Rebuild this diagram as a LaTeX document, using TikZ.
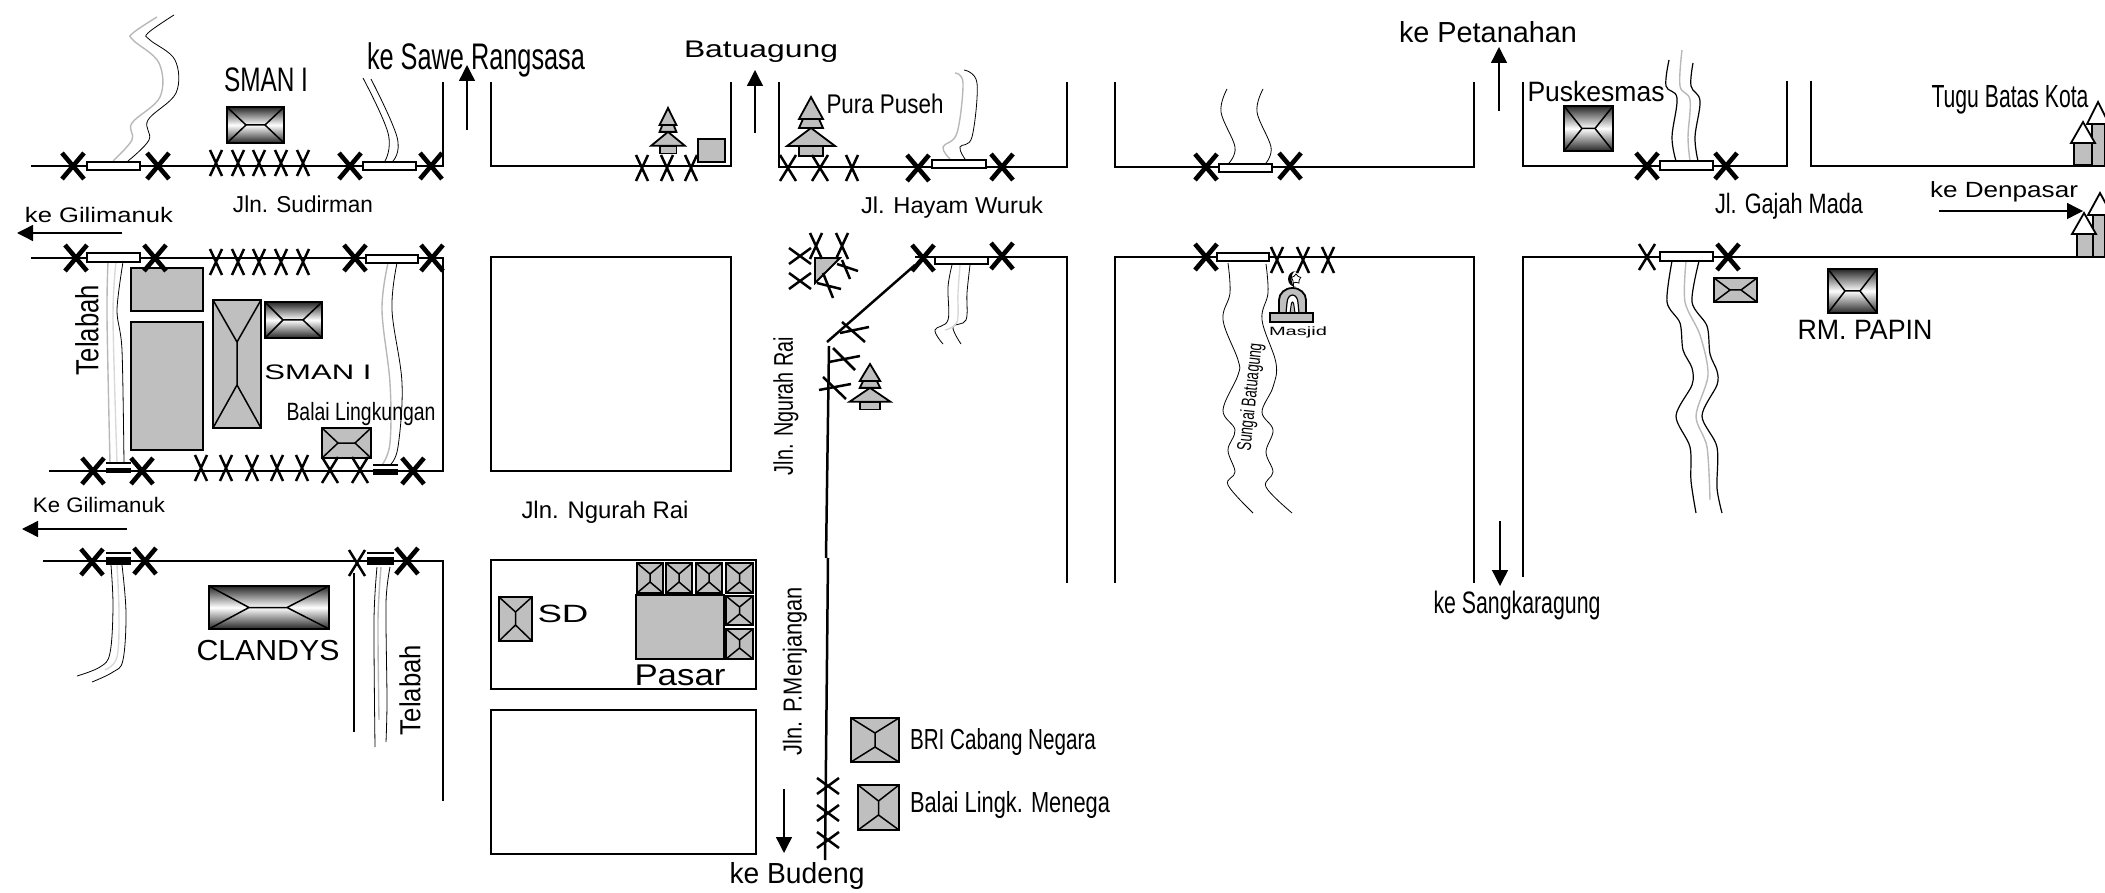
\documentclass[tikz,border=0pt]{standalone}
\usepackage{fontspec}
\usepackage{graphicx}
\setmainfont{Liberation Sans}
\usetikzlibrary{arrows.meta,shapes.geometric}
\definecolor{bgrey}{HTML}{BFBFBF}
\tikzset{
 road/.style={line width=1.25pt,line join=miter},
 riv/.style={line width=.4pt,black},
 rivg/.style={line width=.7pt,black!28},
 bridge/.style={line width=1.1pt,fill=white,draw=black},
 bbridge/.style={fill=black,draw=none},
 bigx/.style={line width=2.3pt},
 smallx/.style={line width=1.25pt},
 gr/.style={fill=bgrey,draw=black,line width=.9pt},
 grad/.style={draw=black,line width=1pt,top color=black!85,bottom color=black!85,middle color=white},
 hip/.style={line width=.75pt,black},
 ar/.style={line width=.7pt,-{Triangle[length=8pt,width=8pt]}},
 lbl/.style={inner sep=0pt,outer sep=0pt,anchor=center}
}
\newcommand\fitt[3]{\resizebox{\dimexpr#1pt/2\relax}{\height}{\fontsize{#2pt}{#2pt}\selectfont #3}}
% \tl name x y widthpx size text
\newcommand\tl[7][0]{\node[lbl,rotate=#1] (#2) at (#3,#4) {\fitt{#5}{#6}{#7}};}
\newcommand\BX[2]{\draw[bigx] (#1-11,#2-13)--(#1+11,#2+13) (#1+11,#2-13)--(#1-11,#2+13);}
\newcommand\SX[2]{\draw[smallx] (#1-6,#2-13)--(#1+6,#2+13) (#1+6,#2-13)--(#1-6,#2+13);}
\newcommand\MX[2]{\draw[smallx] (#1-8,#2-13)--(#1+8,#2+13) (#1+8,#2-13)--(#1-8,#2+13);}
\newcommand\SWX[2]{\draw[smallx] (#1-11,#2-8)--(#1+11,#2+8) (#1+11,#2-8)--(#1-11,#2+8);}
% hroof: x0 y0 x1 y1 ridgeA ridgeB style
\newcommand\hroof[7]{\draw[#7] (#1,#2) rectangle (#3,#4);
 \draw[hip] (#1,#2)--(#5,{(#2+#4)/2})--(#1,#4) (#3,#2)--(#6,{(#2+#4)/2})--(#3,#4) (#5,{(#2+#4)/2})--(#6,{(#2+#4)/2});}
\newcommand\vroof[7]{\draw[#7] (#1,#2) rectangle (#3,#4);
 \draw[hip] (#1,#2)--({(#1+#3)/2},#5)--(#3,#2) (#1,#4)--({(#1+#3)/2},#6)--(#3,#4) ({(#1+#3)/2},#5)--({(#1+#3)/2},#6);}
\newcommand\pagoda[4]{\begin{scope}[shift={(#1,#2)},xscale=#3,yscale=#4]
 \draw[gr] (-12,49) rectangle (12,59);
 \draw[gr] (0,31)--(24,49)--(-24,49)--cycle;
 \draw[gr] (-8,22)--(8,22)--(12,31)--(-12,31)--cycle;
 \draw[gr] (0,0)--(12,22)--(-12,22)--cycle;
 \end{scope}}
\newcommand\monu[7]{% back & front houses
 \draw[gr] (#1,#2) rectangle (#3,#4);
 \draw[line width=.9pt,fill=white] (#5,#2)--(#6,#7)--(2*#6-#5,#2)--cycle;}
\begin{document}
\begin{tikzpicture}[x=0.5pt,y=-0.5pt]
\useasboundingbox (0,0) rectangle (2105,893);
% ---------- rivers
\draw[riv] plot[smooth,tension=.6] coordinates {(174,15)(148,33)(150,40)(175,60)(176,93)(148,120)(149,140)(128,161)};
\draw[rivg] plot[smooth,tension=.6] coordinates {(157,17)(133,33)(133,40)(159,63)(160,97)(132,123)(132,140)(113,161)};
\draw[riv] plot[smooth,tension=.7] coordinates {(363,78)(388,133)(385,161)};
\draw[riv] plot[smooth,tension=.7] coordinates {(371,79)(397,137)(393,161)};
\draw[riv] plot[smooth,tension=.5] coordinates {(123,262)(117,310)(122,350)(124,463)};
\draw[rivg] plot[smooth,tension=.5] coordinates {(108,262)(107,317)(110,463)};
\draw[rivg,black!15] plot[smooth,tension=.5] coordinates {(116,262)(113,317)(117,463)};
\draw[riv] plot[smooth,tension=.6] coordinates {(397,263)(392,310)(402,383)(398,447)(390,465)};
\draw[rivg] plot[smooth,tension=.6] coordinates {(388,263)(382,310)(390,383)(390,443)(382,465)};
\draw[riv] plot[smooth,tension=.6] coordinates {(111,565)(113,607)(110,653)(100,667)(77,676)};
\draw[riv] plot[smooth,tension=.6] coordinates {(122,565)(126,613)(123,660)(113,672)(92,682)};
\draw[rivg,black!15] plot[smooth,tension=.6] coordinates {(117,565)(119,613)(117,657)(105,670)};
\draw[riv] plot[smooth,tension=.5] coordinates {(377,567)(374,620)(375,747)};
\draw[riv] plot[smooth,tension=.5] coordinates {(390,567)(386,603)(387,700)(386,742)};
\draw[rivg] plot[smooth,tension=.5] coordinates {(381,567)(378,620)(379,720)};
\draw[riv] plot[smooth,tension=.6] coordinates {(964,70)(977,83)(972,137)(960,147)(965,159)};
\draw[rivg] plot[smooth,tension=.6] coordinates {(955,73)(963,83)(957,133)(943,147)(950,159)};
\draw[riv] plot[smooth,tension=.6] coordinates {(952,265)(948,287)(948,320)(935,330)(943,344)};
\draw[riv] plot[smooth,tension=.6] coordinates {(970,265)(967,293)(966,320)(953,327)(961,344)};
\draw[rivg,black!15] plot[smooth,tension=.6] coordinates {(960,265)(958,293)(957,322)(945,330)};
\draw[riv] plot[smooth,tension=.6] coordinates {(1227,89)(1221,112)(1235,147)(1229,163)};
\draw[riv] plot[smooth,tension=.6] coordinates {(1263,89)(1257,112)(1271,147)(1266,163)};
\draw[riv] plot[smooth,tension=.6] coordinates {(1228,263)(1230,293)(1223,320)(1238,360)(1238,375)(1223,410)(1235,430)(1228,450)(1235,472)(1228,485)(1253,513)};
\draw[riv] plot[smooth,tension=.6] coordinates {(1266,264)(1268,293)(1262,320)(1276,363)(1273,387)(1262,412)(1273,430)(1266,452)(1273,472)(1266,487)(1292,513)};
\draw[riv,line width=.6pt] plot[smooth,tension=.6] coordinates {(1669,60)(1666,86)(1677,98)(1672,137)(1676,161)};
\draw[riv,line width=.6pt] plot[smooth,tension=.6] coordinates {(1693,63)(1691,86)(1700,101)(1695,137)(1698,161)};
\draw[rivg] plot[smooth,tension=.6] coordinates {(1682,50)(1680,86)(1690,100)(1688,137)(1690,161)};
\draw[riv,line width=.6pt] plot[smooth,tension=.5] coordinates {(1672,261)(1667,302)(1680,323)(1683,350)(1692,368)(1692,385)(1676,416)(1690,447)(1691,481)(1696,513)};
\draw[riv,line width=.6pt] plot[smooth,tension=.5] coordinates {(1699,261)(1692,302)(1707,326)(1710,354)(1717,371)(1717,385)(1702,416)(1717,447)(1717,488)(1722,513)};
\draw[rivg] plot[smooth,tension=.5] coordinates {(1686,261)(1685,302)(1700,335)(1708,375)(1696,416)(1707,447)(1710,500)};
% ---------- roads
\draw[road] (31,166)--(443,166)--(443,82);
\draw[road] (31,258)--(443,258)--(443,471)--(49,471);
\draw[road] (43,561)--(443,561)--(443,801);
\draw[road] (354,573)--(354,732);
\draw[road] (491,82)--(491,166)--(731,166)--(731,82);
\draw[road] (491,257) rectangle (731,471);
\draw[road] (491,560)--(756,560)--(756,689)--(491,689)--cycle;
\draw[road] (491,710) rectangle (756,854);
\draw[road] (779,82)--(779,167)--(1067,167)--(1067,82);
\draw[road] (915,265)--(827,342);
\draw[road] (915,257)--(1067,257)--(1067,583);
\draw[road] (829,346)--(826,558);
\draw[road] (828,558)--(825,860);
\draw[road] (1115,82)--(1115,167)--(1474,167)--(1474,82);
\draw[road] (1115,583)--(1115,257)--(1474,257)--(1474,583);
\draw[road] (1523,82)--(1523,166)--(1787,166)--(1787,81);
\draw[road] (1811,81)--(1811,166)--(2105,166);
\draw[road] (1523,577)--(1523,257)--(2105,257);
% ---------- bridges
\draw[bridge] (87,162) rectangle (140,170);
\draw[bridge] (363,162) rectangle (416,170);
\draw[bridge] (87,253) rectangle (140,262);
\draw[bridge] (366,255) rectangle (418,263);
\draw[bridge] (932,160) rectangle (986,168);
\draw[bridge] (935,257) rectangle (988,264);
\draw[bridge] (1219,164) rectangle (1272,172);
\draw[bridge] (1217,253) rectangle (1269,261);
\draw[bridge] (1660,161) rectangle (1713,170);
\draw[bridge] (1660,252) rectangle (1713,261);
\fill[bbridge] (106,468) rectangle (131,473);
\fill[bbridge] (373,469) rectangle (398,475);
\fill[bbridge] (106,557) rectangle (131,565);
\fill[bbridge] (367,557) rectangle (394,565);
\draw[line width=.6pt] (106,463)--(131,463) (373,465)--(398,465) (106,553)--(131,553) (367,553)--(394,553);
% ---------- buildings
\draw[gr] (131,268) rectangle (203,311);
\draw[gr] (131,322) rectangle (203,450);
\vroof{213}{300}{261}{428}{342}{385}{gr}
\hroof{227}{107}{284}{143}{246}{265}{grad}
\hroof{265}{302}{322}{338}{283}{303}{grad}
\hroof{322}{428}{371}{458}{338}{355}{gr}
\hroof{209}{586}{329}{629}{249}{287}{grad}
\draw[gr] (698,139) rectangle (725,162);
\draw[gr] (815,258)--(840,258)--(815,283)--cycle;
\draw[gr] (636,595) rectangle (724,659);
\vroof{637}{563}{663}{593}{574}{582}{gr}
\vroof{666}{563}{692}{593}{574}{582}{gr}
\vroof{696}{563}{722}{593}{574}{582}{gr}
\vroof{726}{563}{753}{593}{574}{582}{gr}
\vroof{726}{596}{753}{625}{607}{614}{gr}
\vroof{726}{629}{753}{659}{640}{648}{gr}
\vroof{499}{597}{532}{641}{612}{625}{gr}
\vroof{851}{718}{899}{762}{733}{747}{gr}
\vroof{858}{785}{899}{830}{801}{815}{gr}
\hroof{1564}{106}{1613}{151}{1582}{1595}{grad}
\hroof{1714}{278}{1757}{302}{1730}{1741}{gr}
\hroof{1828}{269}{1877}{313}{1845}{1860}{grad}
\pagoda{811}{97}{1}{1}
\pagoda{668}{108}{.7}{.77}
\pagoda{870}{364}{.85}{.77}
% ---------- crosses
\foreach \p/\q in {73/166,158/166,350/166,431/166,76/258,155/258,355/258,432/258,93/471,142/471,413/471,92/562,145/561,407/561,918/168,1002/167,923/258,1002/256,1206/167,1290/166,1206/257,1647/166,1726/166,1728/257}{\BX{\p}{\q}}
\foreach \p in {216,238,259,281,303}{\SX{\p}{163}\SX{\p}{262}}
\foreach \p in {201,226,252,277,302}{\SX{\p}{468}}
\foreach \p/\q in {642/168,667/168,691/168,852/168,1277/260,1303/260,1328/260,816/246,842/246}{\SX{\p}{\q}}
\foreach \p/\q in {330/470,360/470,788/168,820/168,357/563,1647/257}{\MX{\p}{\q}}
\foreach \p/\q in {828/786,828/813,828/840,800/256,800/281}{\SWX{\p}{\q}}
\draw[smallx] (842,322)--(865,342) (840,333)--(869,327);
\draw[smallx] (833,348)--(855,370) (829,362)--(860,356);
\draw[smallx] (823,377)--(846,399) (819,390)--(851,384);
\draw[smallx] (837,264)--(858,271) (842,260)--(850,279);
\draw[smallx] (817,283)--(841,289) (823,273)--(833,298);
% monuments
\monu{2092}{124}{2105}{166}{2087}{2098}{102}
\monu{2074}{143}{2092}{165}{2071}{2083}{122}
\monu{2093}{215}{2105}{257}{2088}{2100}{193}
\monu{2077}{234}{2093}{257}{2072}{2084}{213}
% masjid
\draw[gr] (1279,313)--(1279,300) arc[start angle=180,end angle=360,x radius=13.5,y radius=12]--(1306,313)--cycle;
\draw[line width=.6pt,fill=white] (1286,313)--(1287,303) arc[start angle=180,end angle=360,x radius=5.5,y radius=8]--(1299,313)--cycle;
\draw[line width=.5pt,fill=bgrey] (1290,313)--(1291,306) arc[start angle=180,end angle=360,x radius=1.5,y radius=4]--(1295,313)--cycle;
\draw[gr] (1270,313) rectangle (1313,322);
\fill (1296,271) arc[start angle=270,end angle=90,x radius=8,y radius=8] arc[start angle=90,end angle=270,x radius=4.5,y radius=8]--cycle;
\draw[line width=.4pt] (1293,288)--(1293,279);
\node[star,star points=5,draw=black,fill=white,line width=.4pt,inner sep=0pt,minimum size=5pt] (mstar) at (1296,279) {};
% ---------- arrows
\draw[ar] (122,233)--(17,233);
\draw[ar] (127,529)--(22,529);
\draw[ar] (467,130)--(467,65);
\draw[ar] (755,133)--(755,70);
\draw[ar] (1499,111)--(1499,47);
\draw[ar] (1500,521)--(1500,586);
\draw[ar] (784,789)--(784,853);
\draw[ar] (1939,211)--(2083,211);
% ---------- labels
\tl{sman1}{266}{80}{84}{17}{SMAN I}
\tl{sawe}{476}{60}{218}{18.5}{ke Sawe Rangsasa}
\tl{batu}{761}{52}{154}{12}{Batuagung}
\tl{pura}{885}{104}{117}{13.5}{Pura Puseh}
\tl{petan}{1488}{32}{178}{14.5}{ke Petanahan}
\tl{pusk}{1596}{91}{137}{14}{Puskesmas}
\tl{tugu}{2010}{100}{157}{16}{Tugu Batas Kota}
\tl{sudir}{303}{204}{140}{11.5}{Jln. Sudirman}
\tl{gili}{99}{215}{148}{10.5}{ke Gilimanuk}
\tl{hayam}{952}{208}{182}{11.5}{Jl. Hayam Wuruk}
\tl{gajah}{1789}{206}{148}{14}{Jl. Gajah Mada}
\tl{denp}{2004}{192}{148}{11}{ke Denpasar}
\tl[90]{telab}{87}{330}{90}{16}{Telabah}
\tl{sman2}{318}{372}{107}{10.5}{SMAN I}
\tl{balai}{361}{414}{149}{12.5}{Balai Lingkungan}
\tl[90]{jlnng}{786}{406}{138}{13.5}{Jln. Ngurah Rai}
\tl{masj}{1298}{332}{58}{6}{Masjid}
\tl[84]{sung}{1251}{397}{108}{10}{Sungai Batuagung}
\tl{rmpap}{1865}{330}{135}{14}{RM. PAPIN}
\tl{kegil}{99}{505}{132}{10.5}{Ke Gilimanuk}
\tl{ngrai}{605}{512}{167}{12}{Jln. Ngurah Rai}
\tl{sangk}{1517}{605}{167}{15.5}{ke Sangkaragung}
\tl{sdl}{563}{614}{51}{12.5}{SD}
\tl{clan}{268}{651}{143}{14.5}{CLANDYS}
\tl{pasar}{680}{675}{91}{15}{Pasar}
\tl[90]{telab2}{410}{690}{90}{14.5}{Telabah}
\tl[90]{menj}{795}{671}{168}{13}{Jln. P.Menjangan}
\tl{bri}{1003}{742}{186}{14.5}{BRI Cabang Negara}
\tl{blm}{1010}{805}{200}{14.5}{Balai Lingk. Menega}
\tl{budeng}{797}{876}{135}{14.5}{ke Budeng}
\end{tikzpicture}
\end{document}
